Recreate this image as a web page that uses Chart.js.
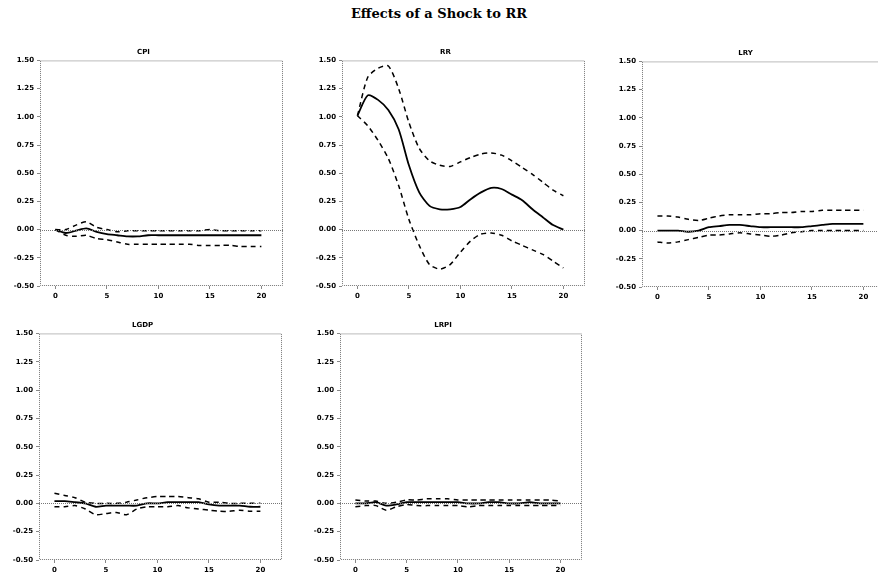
<!DOCTYPE html>
<html>
<head>
<meta charset="utf-8">
<script src="https://cdn.jsdelivr.net/npm/chart.js@4.4.1/dist/chart.umd.min.js"></script>
<style>
  html, body { margin: 0; padding: 0; background: #fff; overflow: hidden; }
  body { width: 878px; height: 572px; position: relative; }
  #title { position: absolute; left: 0; width: 878px; top: 6px; text-align: center;
           font: bold 13px "DejaVu Serif", serif; color: #000; }
  .box { position: absolute; }
</style>
</head>
<body>
<div id="title">Effects of a Shock to RR</div>

<div class="box" style="left:4px;top:42px;width:284px;height:265px"><canvas id="c1"></canvas></div>
<div class="box" style="left:306px;top:42px;width:284px;height:265px"><canvas id="c2"></canvas></div>
<div class="box" style="left:606px;top:43px;width:284px;height:265px"><canvas id="c3"></canvas></div>
<div class="box" style="left:3px;top:315px;width:284px;height:266px"><canvas id="c4"></canvas></div>
<div class="box" style="left:304px;top:315px;width:283px;height:266px"><canvas id="c5"></canvas></div>

<script>
// periods of the impulse response
var periods = [0,1,2,3,4,5,6,7,8,9,10,11,12,13,14,15,16,17,18,19,20];
var xTicks = [0,5,10,15,20];
var yTicks = [1.50,1.25,1.00,0.75,0.50,0.25,0.00,-0.25,-0.50];

// CPI
var cpiResp  = [0,-0.03,-0.01,0.01,-0.02,-0.04,-0.05,-0.06,-0.06,-0.05,-0.05,-0.05,-0.05,-0.05,-0.05,-0.05,-0.05,-0.05,-0.05,-0.05,-0.05];
var cpiUpper = [0,0.00,0.04,0.07,0.02,0.00,-0.02,-0.01,-0.01,-0.01,-0.01,-0.01,-0.01,-0.01,-0.01,0.00,-0.01,-0.01,-0.01,-0.01,-0.01];
var cpiLower = [0,-0.05,-0.06,-0.05,-0.08,-0.09,-0.11,-0.13,-0.13,-0.13,-0.13,-0.13,-0.13,-0.13,-0.14,-0.14,-0.14,-0.14,-0.15,-0.15,-0.15];

// RR
var rrResp  = [1.01,1.19,1.15,1.06,0.89,0.57,0.33,0.21,0.18,0.18,0.20,0.27,0.33,0.37,0.36,0.31,0.26,0.18,0.11,0.04,0.00];
var rrUpper = [1.01,1.35,1.43,1.45,1.25,0.95,0.72,0.61,0.57,0.56,0.60,0.64,0.67,0.68,0.66,0.61,0.55,0.49,0.42,0.35,0.30];
var rrLower = [1.01,0.92,0.79,0.63,0.39,0.09,-0.14,-0.31,-0.35,-0.31,-0.20,-0.10,-0.04,-0.03,-0.05,-0.10,-0.14,-0.18,-0.22,-0.28,-0.34];

// LRY
var lryResp  = [0,0,0,-0.01,0,0.03,0.04,0.05,0.05,0.04,0.03,0.03,0.03,0.03,0.03,0.04,0.05,0.06,0.06,0.06,0.06];
var lryUpper = [0.13,0.13,0.12,0.10,0.09,0.11,0.13,0.14,0.14,0.14,0.15,0.15,0.16,0.16,0.17,0.17,0.18,0.18,0.18,0.18,0.18];
var lryLower = [-0.10,-0.11,-0.10,-0.08,-0.06,-0.04,-0.04,-0.03,-0.02,-0.03,-0.04,-0.05,-0.04,-0.02,-0.01,0,0,0,0,0,0];

// LGDP
var gdpResp  = [0.02,0.02,0.01,0,-0.03,-0.02,-0.02,-0.02,-0.02,0,0,0.01,0.01,0.01,0.01,-0.01,-0.02,-0.02,-0.02,-0.03,-0.03];
var gdpUpper = [0.09,0.07,0.05,0.01,0,0,0,0.01,0.03,0.05,0.06,0.06,0.06,0.05,0.04,0.01,0.01,0,0,0,0];
var gdpLower = [-0.03,-0.03,-0.02,-0.05,-0.10,-0.09,-0.08,-0.10,-0.05,-0.03,-0.03,-0.03,-0.02,-0.04,-0.05,-0.06,-0.07,-0.07,-0.06,-0.07,-0.07];

// LRPI
var rpiResp  = [0,0,0.01,-0.02,-0.01,0.01,0.01,0.01,0.01,0.01,0.01,0,0,0.01,0.01,0,0,0.01,0,0,0];
var rpiUpper = [0.03,0.02,0.02,0,0.01,0.03,0.03,0.04,0.04,0.04,0.03,0.03,0.03,0.03,0.03,0.03,0.03,0.03,0.03,0.03,0.02];
var rpiLower = [-0.03,-0.02,-0.02,-0.06,-0.03,-0.01,-0.02,-0.02,-0.02,-0.02,-0.02,-0.03,-0.02,-0.02,-0.02,-0.02,-0.02,-0.02,-0.02,-0.02,-0.02];

// dotted frame round the plot and the zero line
var framePlugin = {
    id: 'frame',
    afterDatasetsDraw(chart) {
        var a = chart.chartArea, ctx = chart.ctx;
        var y0 = chart.scales.y.getPixelForValue(0);
        ctx.save();
        ctx.strokeStyle = '#777';
        ctx.lineWidth = 1;
        ctx.setLineDash([1, 1]);
        ctx.strokeRect(a.left + 0.5, a.top + 0.5, a.right - a.left - 1, a.bottom - a.top - 1);
        ctx.beginPath();
        ctx.moveTo(a.left, Math.round(y0) + 0.5);
        ctx.lineTo(a.right, Math.round(y0) + 0.5);
        ctx.stroke();
        ctx.restore();
    }
};

function toPoints(values) {
    return values.map((v, i) => ({ x: periods[i], y: v }));
}

function drawPanel(id, name, resp, upper, lower) {
    var band = {
        borderColor: '#000', borderWidth: 1.5, borderDash: [5, 4],
        pointRadius: 0, tension: 0.25, fill: false
    };
    new Chart(document.getElementById(id), {
        type: 'line',
        data: {
            datasets: [
                Object.assign({ label: 'upper', data: toPoints(upper) }, band),
                { label: name, data: toPoints(resp), borderColor: '#000', borderWidth: 1.8,
                  pointRadius: 0, tension: 0.25, fill: false },
                Object.assign({ label: 'lower', data: toPoints(lower) }, band)
            ]
        },
        options: {
            responsive: true,
            maintainAspectRatio: false,
            animation: false,
            layout: { padding: { right: 5, top: 0, left: 0, bottom: 0 } },
            plugins: {
                legend: { display: false },
                tooltip: { enabled: false },
                title: {
                    display: true, text: name, color: '#000',
                    font: { family: 'DejaVu Sans', size: 7, weight: 'bold' },
                    padding: { top: 6, bottom: 4 }
                }
            },
            scales: {
                x: {
                    type: 'linear', min: -1.5, max: 22.1,
                    afterBuildTicks: (s) => { s.ticks = xTicks.map(v => ({ value: v })); },
                    afterFit: (s) => { s.height = 21; },
                    grid: { display: true, drawOnChartArea: false, tickLength: 3, color: '#888' },
                    border: { display: false },
                    ticks: { color: '#000', padding: 3, maxRotation: 0,
                             font: { family: 'DejaVu Sans', size: 7, weight: 'bold' } }
                },
                y: {
                    min: -0.5, max: 1.5,
                    afterBuildTicks: (s) => { s.ticks = yTicks.map(v => ({ value: v })); },
                    afterFit: (s) => { s.width = 36; },
                    grid: { display: true, drawOnChartArea: false, tickLength: 3, color: '#888' },
                    border: { display: false },
                    ticks: { color: '#000', padding: 3,
                             callback: (v) => v.toFixed(2),
                             font: { family: 'DejaVu Sans', size: 7, weight: 'bold' } }
                }
            }
        },
        plugins: [framePlugin]
    });
}

drawPanel('c1', 'CPI', cpiResp, cpiUpper, cpiLower);
drawPanel('c2', 'RR', rrResp, rrUpper, rrLower);
drawPanel('c3', 'LRY', lryResp, lryUpper, lryLower);
drawPanel('c4', 'LGDP', gdpResp, gdpUpper, gdpLower);
drawPanel('c5', 'LRPI', rpiResp, rpiUpper, rpiLower);
</script>
</body>
</html>
